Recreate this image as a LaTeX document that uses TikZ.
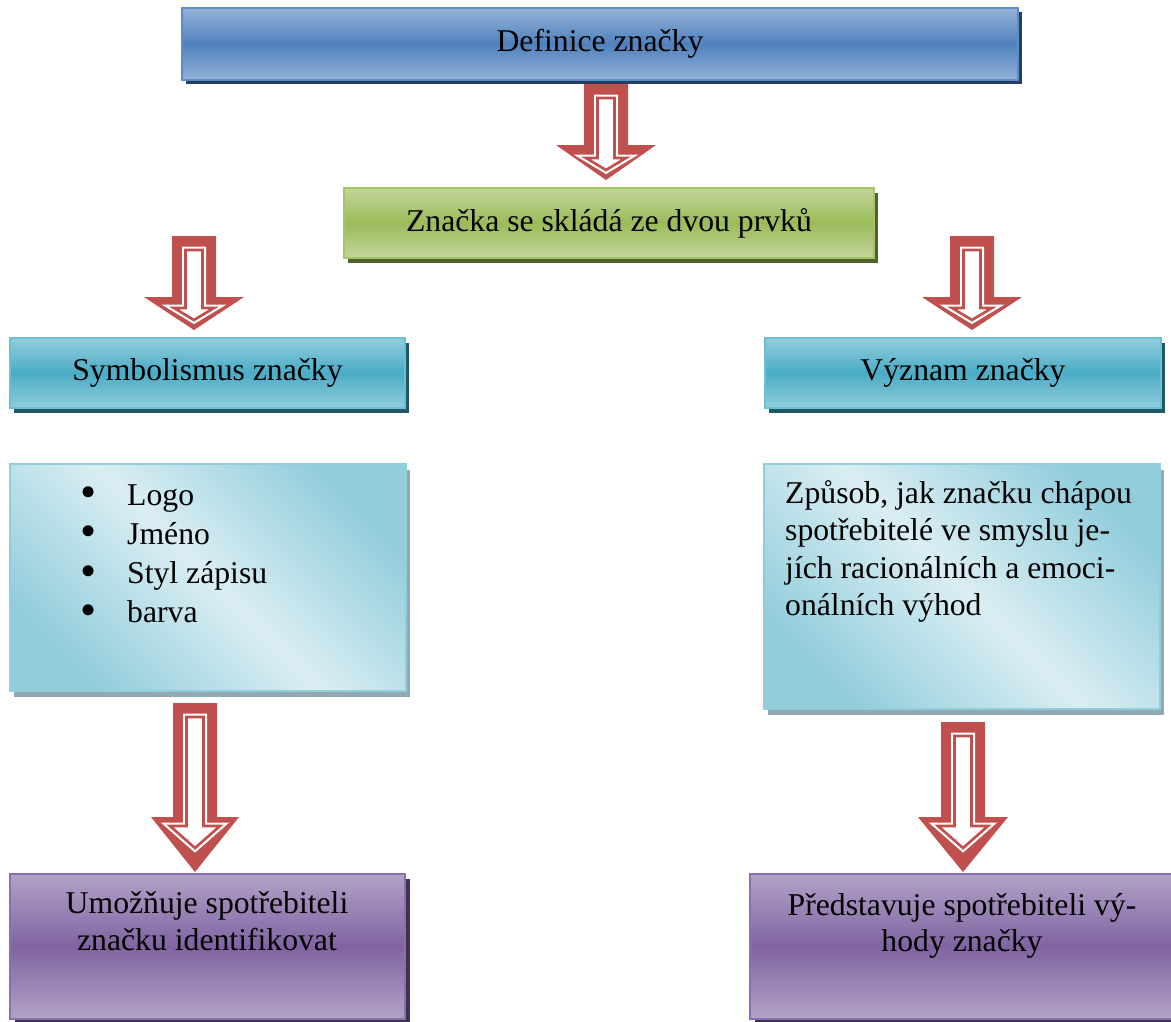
\documentclass[tikz,border=0pt]{standalone}
\usepackage{fontspec}
\usepackage{graphicx}
\setmainfont{Liberation Serif}
\usetikzlibrary{shadows}
\definecolor{bluemid}{HTML}{4F81BD}
\definecolor{bluelight}{HTML}{95B3D7}
\definecolor{blueborder}{HTML}{5B8CC8}
\definecolor{blueshadow}{HTML}{243F60}
\definecolor{greenmid}{HTML}{9BBB59}
\definecolor{greenlight}{HTML}{C3D69B}
\definecolor{greenborder}{HTML}{A5C46A}
\definecolor{greenshadow}{HTML}{4F6228}
\definecolor{aquamid}{HTML}{4BACC6}
\definecolor{aqualight}{HTML}{92CDDC}
\definecolor{aquaborder}{HTML}{6CC0D6}
\definecolor{aquashadow}{HTML}{215867}
\definecolor{paleaqua}{HTML}{DAEEF3}
\definecolor{paleborder}{HTML}{92CDDC}
\definecolor{paleshadow}{HTML}{90A9B2}
\definecolor{purplemid}{HTML}{8064A2}
\definecolor{purplelight}{HTML}{B2A2C7}
\definecolor{purpleborder}{HTML}{8C70AE}
\definecolor{purpleshadow}{HTML}{3F3151}
\definecolor{arrowred}{HTML}{C0504D}
% block arrow: #1 cx, #2 top, #3 tip, #4 head height, #5 head half width,
% #6 inner head base offset, #7 inner head half width, #8 inner tip offset
\newcommand\blockarrow[8]{%
  \fill[arrowred] (#1-22,#2) -- (#1+22,#2) -- (#1+22,#3-#4) -- (#1+#5,#3-#4)
    -- (#1,#3) -- (#1-#5,#3-#4) -- (#1-22,#3-#4) -- cycle;
  \path[fill=white, draw=white, line width=7pt, line join=miter]
    (#1-8.5,#2+14) -- (#1+8.5,#2+14) -- (#1+8.5,#3-#6) -- (#1+#7,#3-#6)
    -- (#1,#3-#8) -- (#1-#7,#3-#6) -- (#1-8.5,#3-#6) -- cycle;
  \draw[arrowred, line width=2.6pt, line join=miter]
    (#1-8.5,#2+14) -- (#1+8.5,#2+14) -- (#1+8.5,#3-#6) -- (#1+#7,#3-#6)
    -- (#1,#3-#8) -- (#1-#7,#3-#6) -- (#1-8.5,#3-#6) -- cycle;
}
\newcommand\bulletmark{\makebox[47pt][l]{\raisebox{-2.5pt}{\scalebox{1.45}{•}}}}
\tikzset{
  box/.style={rectangle, inner sep=0pt, anchor=north west, line width=2pt},
  topbox/.style={box, draw=blueborder, top color=bluelight, bottom color=bluelight,
    middle color=bluemid,
    drop shadow={shadow xshift=4pt, shadow yshift=-4pt, opacity=1, fill=blueshadow}},
  greenbox/.style={box, draw=greenborder, top color=greenlight, bottom color=greenlight,
    middle color=greenmid,
    drop shadow={shadow xshift=4pt, shadow yshift=-5pt, opacity=1, fill=greenshadow}},
  aquabox/.style={box, draw=aquaborder, top color=aqualight, bottom color=aqualight,
    middle color=aquamid,
    drop shadow={shadow xshift=4pt, shadow yshift=-5pt, opacity=1, fill=aquashadow}},
  palebox/.style={box, draw=paleborder, top color=aqualight, bottom color=aqualight,
    middle color=paleaqua, shading angle=-45,
    drop shadow={shadow xshift=4pt, shadow yshift=-6pt, opacity=1, fill=paleshadow}},
  purplebox/.style={box, draw=purpleborder, top color=purplelight, bottom color=purplelight,
    middle color=purplemid,
    drop shadow={shadow xshift=5pt, shadow yshift=-5pt, opacity=1, fill=purpleshadow}},
  txt/.style={inner sep=0pt}
}
\begin{document}
\begin{tikzpicture}[x=1pt, y=-1pt, every node/.style={font=\fontsize{31.7}{37.7}\selectfont}]
\useasboundingbox[fill=white] (0,0) rectangle (1171,1021);

% boxes
\node[topbox, minimum width=836, minimum height=72] (def) at (181,7) {Definice značky};
\node[greenbox, minimum width=530, minimum height=70] (two) at (343,187) {Značka se skládá ze dvou prvků};
\node[aquabox, minimum width=395, minimum height=70] (sym) at (9,337) {Symbolismus značky};
\node[aquabox, minimum width=396, minimum height=70] (mean) at (764,337) {Význam značky};
\node[palebox, minimum width=396, minimum height=227] (symlist) at (9,463) {};
\node[palebox, minimum width=396, minimum height=245] (meantext) at (763,463) {};
\node[purplebox, minimum width=395, minimum height=145] (ident) at (9,873) {};
\node[purplebox, minimum width=440, minimum height=145] (benefit) at (749,873) {};

% texts in boxes
\node[txt, anchor=base west, font=\fontsize{31.7}{39.3}\selectfont] (listtext) at (80,505)
  {\begin{tabular}[t]{@{}l@{}}\bulletmark Logo\\ \bulletmark Jméno\\
   \bulletmark Styl zápisu\\ \bulletmark barva\end{tabular}};
\node[txt, anchor=base west, font=\fontsize{31.7}{37.5}\selectfont] (meanpar) at (785,503)
  {\begin{tabular}[t]{@{}l@{}}Způsob, jak značku chápou\\ spotřebitelé ve smyslu je-\\
   jích racionálních a emoci-\\ onálních výhod\end{tabular}};
\node[txt, anchor=base, font=\fontsize{31.7}{37.7}\selectfont] (identtext) at (207,913)
  {\begin{tabular}[t]{@{}c@{}}Umožňuje spotřebiteli\\ značku identifikovat\end{tabular}};
\node[txt, anchor=base, font=\fontsize{31.7}{36.5}\selectfont] (benefittext) at (962,915)
  {\begin{tabular}[t]{@{}c@{}}Představuje spotřebiteli vý-\\ hody značky\end{tabular}};

% block arrows
\blockarrow{606}{84}{180}{35}{50}{22}{20}{10}
\blockarrow{194}{236}{330}{33}{50}{22}{20}{10}
\blockarrow{972}{236}{330}{33}{50}{22}{20}{10}
\blockarrow{195}{703}{872}{55}{44}{46}{25}{24}
\blockarrow{963}{722}{872}{55}{45}{46}{25}{24}
\end{tikzpicture}
\end{document}
